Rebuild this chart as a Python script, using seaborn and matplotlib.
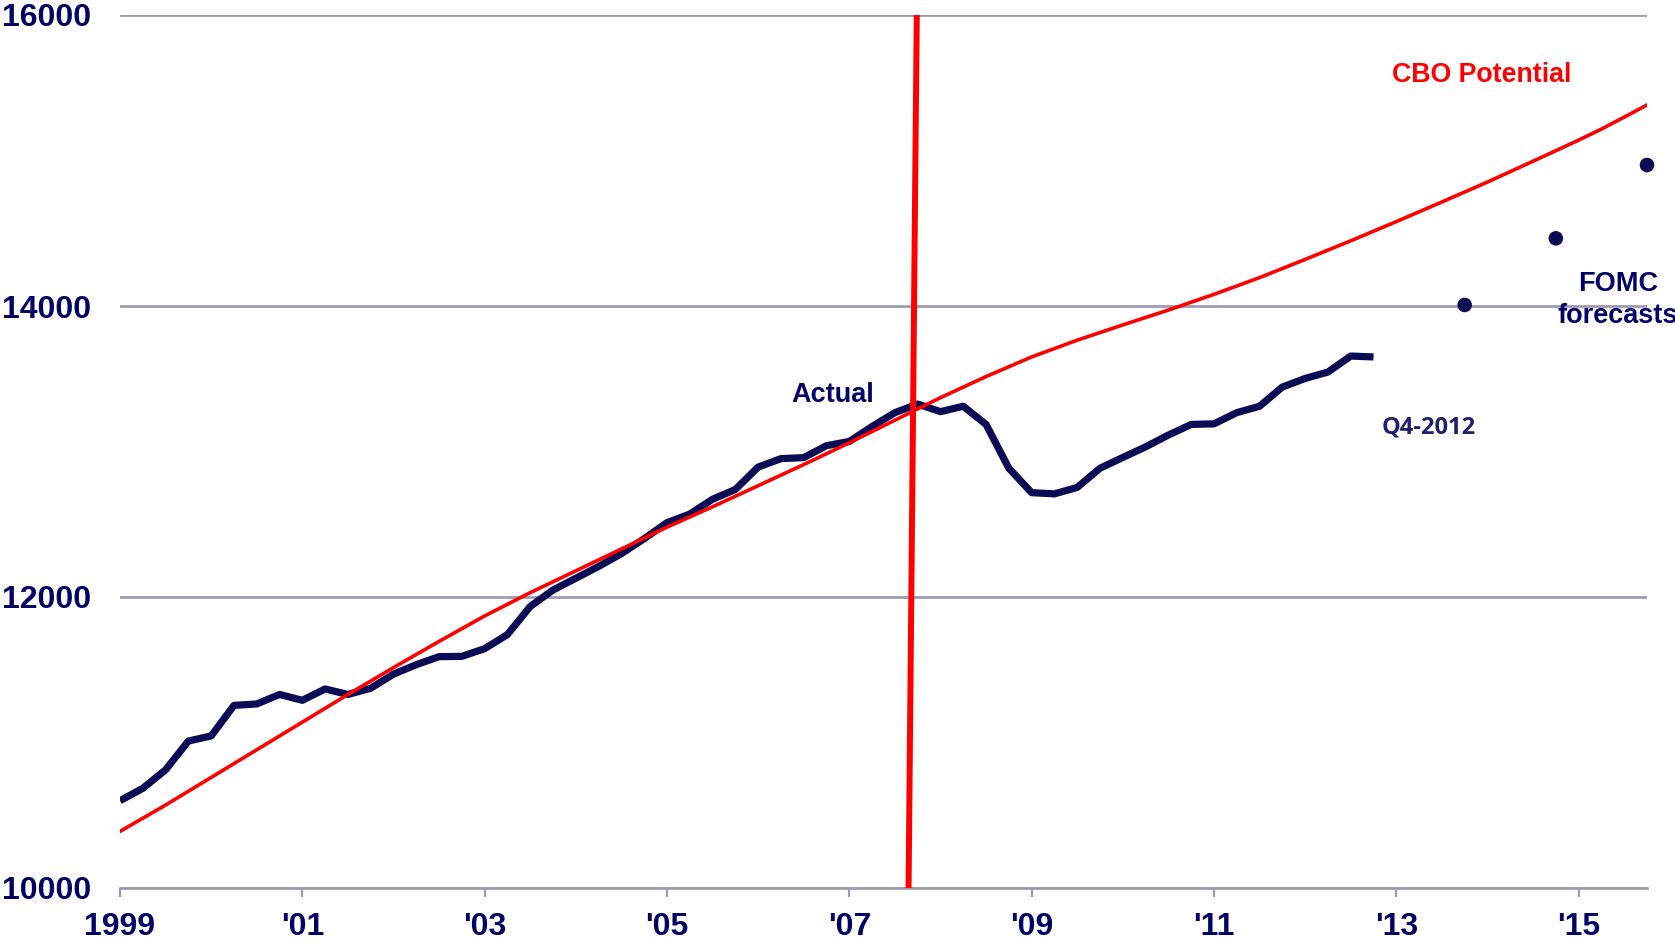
import matplotlib.pyplot as plt
import seaborn as sns
import pandas as pd

# Real GDP (billions, chained dollars), quarterly 1999Q1 - 2012Q4
quarters = pd.period_range('1999Q1', '2012Q4', freq='Q')
actual_gdp = [10600, 10685, 10812, 11010, 11045, 11255, 11265, 11330,
              11290, 11368, 11330, 11373, 11470, 11535, 11590, 11592,
              11645, 11742, 11935, 12048, 12129, 12210, 12298, 12401,
              12511, 12570, 12672, 12739, 12893, 12951, 12958, 13040,
              13069, 13172, 13267, 13326, 13274, 13311, 13186, 12885,
              12717, 12709, 12753, 12885, 12959, 13032, 13113, 13186,
              13190, 13267, 13311, 13443, 13502, 13546, 13656, 13650]

# CBO potential output, every half year
cbo_years = [1999, 1999.5, 2000, 2000.5, 2001, 2001.5, 2002, 2002.5,
             2003, 2003.5, 2004, 2004.5, 2005, 2005.5, 2006, 2006.5,
             2007, 2007.5, 2008, 2008.5, 2009, 2009.5, 2010, 2010.5,
             2011, 2011.5, 2012, 2012.5, 2013, 2013.5, 2014, 2014.5,
             2015, 2015.25, 2015.5, 2015.75]
cbo_potential = [10389, 10570, 10760, 10950, 11140, 11330, 11515, 11695,
                 11870, 12030, 12180, 12330, 12480, 12620, 12765, 12910,
                 13060, 13215, 13370, 13515, 13650, 13765, 13870, 13972,
                 14080, 14195, 14320, 14448, 14580, 14715, 14852, 14995,
                 15140, 15216, 15298, 15382]

# FOMC forecasts (Q4 of each year)
fomc_years = [2013.75, 2014.75, 2015.75]
fomc_forecast = [14007, 14465, 14969]

# red marker line at the 2007 peak
recession_x = [2007.65, 2007.74]
recession_y = [10000, 16000]

year_ticks = [1999, 2001, 2003, 2005, 2007, 2009, 2011, 2013, 2015]
year_labels = ['1999', "'01", "'03", "'05", "'07", "'09", "'11", "'13", "'15"]
y_ticks = [10000, 12000, 14000, 16000]

navy = '#0b0b55'
text_navy = '#000066'
red = '#ff0000'
grid_col = '#9c9cb4'

sns.set_style('white')
plt.rcParams['font.family'] = ['Liberation Sans', 'DejaVu Sans']

df = pd.DataFrame({'x': quarters.year + (quarters.quarter - 1) / 4,
                   'gdp': actual_gdp})

fig = plt.figure(figsize=(16.75, 9.4), dpi=100)
ax = fig.add_axes([120 / 1675, 52 / 940, 1527 / 1675, 873 / 940])

sns.lineplot(data=df, x='x', y='gdp', color=navy, lw=5.2, ax=ax,
             solid_capstyle='butt', zorder=3)
sns.lineplot(x=cbo_years, y=cbo_potential, color=red, lw=2.6, ax=ax,
             zorder=4)
sns.lineplot(x=recession_x, y=recession_y, color=red, lw=4.3, ax=ax,
             sort=False, zorder=5, solid_capstyle='butt')
sns.scatterplot(x=fomc_years, y=fomc_forecast, color=navy, s=110,
                edgecolor='none', ax=ax, zorder=5, clip_on=False)

ax.set_xlim(1999, 2015.75)
ax.set_ylim(10000, 16000)
ax.set_xticks(year_ticks)
ax.set_xticklabels(year_labels)
ax.set_yticks(y_ticks)
ax.set_yticklabels([str(v) for v in y_ticks])
ax.set_xlabel('')
ax.set_ylabel('')

for sp in ['left', 'right', 'top']:
    ax.spines[sp].set_visible(False)
ax.spines['bottom'].set_color(grid_col)
ax.spines['bottom'].set_linewidth(2)
ax.yaxis.grid(True, color=grid_col, lw=2)
ax.set_axisbelow(True)

ax.tick_params(axis='x', length=6.5, width=1.6, color=grid_col, pad=10.5,
               labelsize=23, labelcolor=text_navy, bottom=True)
ax.tick_params(axis='y', length=0, pad=21, labelsize=23,
               labelcolor=text_navy)
for lab in ax.get_xticklabels() + ax.get_yticklabels():
    lab.set_fontweight('bold')

ax.text(2013.94, 15588, 'CBO Potential', color=red, fontsize=19.3,
        fontweight='bold', ha='center', va='center')
ax.text(2006.82, 13388, 'Actual', color=text_navy, fontsize=19.5,
        fontweight='bold', ha='center', va='center')
ax.text(2015.43, 14040, 'FOMC\nforecasts', color=text_navy, fontsize=19.5,
        fontweight='bold', ha='center', va='center', linespacing=1.3,
        clip_on=False)
ax.text(2013.35, 13168, 'Q4-2012', color='#1f1f70', fontsize=17,
        fontweight='bold', ha='center', va='center', family='Open Sans')

fig.savefig('out.png', dpi=100)
